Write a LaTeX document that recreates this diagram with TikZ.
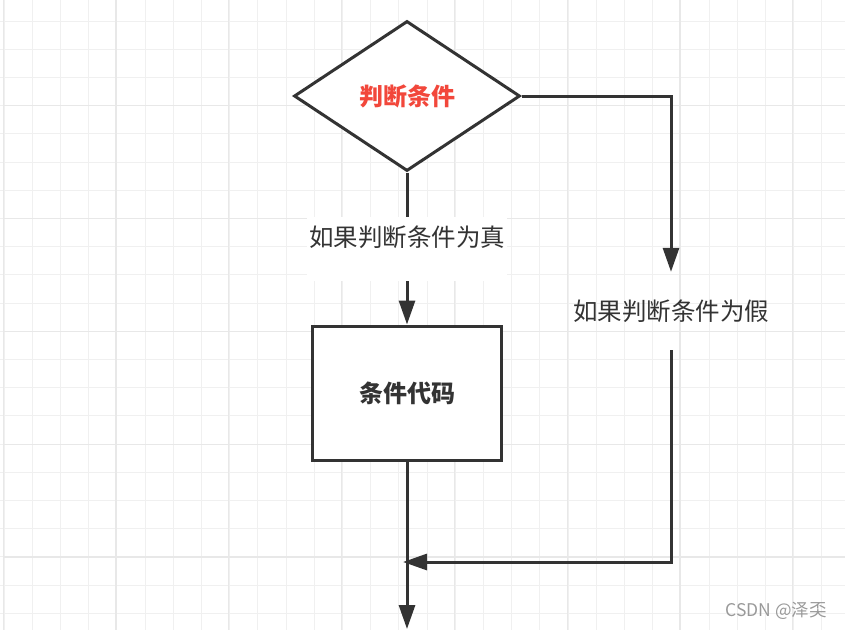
\documentclass[tikz,border=0pt]{standalone}
\usepackage{fontspec}
\setmainfont{Noto Sans CJK SC}
\usetikzlibrary{arrows.meta,positioning,shapes.geometric}
\definecolor{linegray}{HTML}{333333}
\definecolor{condred}{HTML}{F2473B}
\definecolor{gridminor}{HTML}{F0F0F0}
\definecolor{gridmajor}{HTML}{E8E8E8}
\definecolor{markgray}{HTML}{999999}

\begin{document}
\begin{tikzpicture}[x=1pt,y=-1pt,
  cond/.style={diamond,draw=linegray,fill=white,line width=3pt,minimum width=226pt,minimum height=150pt,inner sep=0pt,
    font=\fontsize{24}{28}\selectfont\bfseries,text=condred},
  codebox/.style={draw=linegray,fill=white,line width=3pt,minimum width=189pt,minimum height=134pt,
    font=\fontsize{24}{28}\selectfont\bfseries,text=linegray},
  truelbl/.style={fill=white,minimum width=200pt,inner xsep=0pt,inner ysep=6pt,text height=24pt,text depth=28pt,
    font=\fontsize{24.5}{28}\selectfont,text=linegray},
  falselbl/.style={minimum width=200pt,minimum height=78pt,inner sep=0pt,font=\fontsize{24.5}{28}\selectfont,text=linegray},
  arr/.style={-{Triangle[length=24pt,width=16pt]},line width=3pt,draw=linegray},
  node distance=152pt
]
\useasboundingbox (0,0) rectangle (845,629);
\begin{scope}
\clip (0,0) rectangle (845,629);
\draw[gridminor,line width=1pt,shift={(4,21)}] (-28.2,660) grid[step=28.2pt] (880,-28.2);
\draw[gridmajor,line width=1.2pt,shift={(116,105.8)}] (-112.8,660) grid[step=112.8pt] (800,-112.8);
\end{scope}

\node[cond] (judge) at (407,96) {判断条件};
\node[codebox,below=of judge] (code) {条件代码};
\node[falselbl] (iffalse) at (671,311) {如果判断条件为假};
\coordinate (merge) at (403,562);
\coordinate (exit) at (407,629);

\draw[arr] (judge.south) -- node[truelbl] (iftrue) {如果判断条件为真} (code.north);
\draw[arr] (judge.east) -| (iffalse.north);
\draw[arr] (iffalse.south) |- (merge);
\draw[arr] (code.south) -- (exit);

\node[font=\fontsize{17.5}{20}\selectfont,text=markgray] (mark) at (776,611) {CSDN @泽奀};
\end{tikzpicture}
\end{document}
